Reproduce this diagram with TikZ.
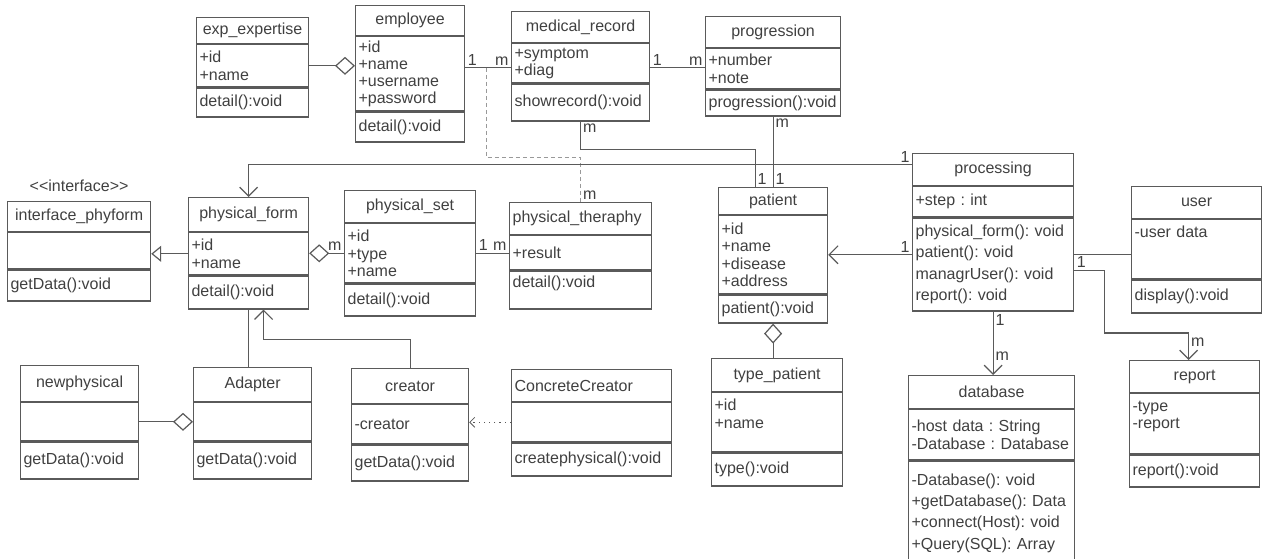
\documentclass[tikz,border=0pt]{standalone}
\usepackage{fontspec}
\setmainfont{Liberation Sans}
\usetikzlibrary{positioning,arrows.meta}
\definecolor{umlline}{HTML}{5A5A5A}
\definecolor{umltext}{HTML}{404040}
\frenchspacing

\begin{document}
\begin{tikzpicture}[x=0.5pt, y=-0.5pt]
\tikzstyle{every node} = [text=umltext, font=\fontsize{8}{8.6}\selectfont]
\tikzstyle{head} = [draw=umlline, line width=0.6pt, rectangle, inner sep=0pt, anchor=north west]
\tikzstyle{part} = [draw=umlline, line width=0.6pt, rectangle, inner xsep=1.5pt, inner ysep=0pt, align=left]
\tikzstyle{loose} = [font=\fontsize{8}{10.7}\selectfont]
\tikzstyle{mult} = [inner sep=1pt]
\tikzstyle{link} = [draw=umlline, line width=0.6pt]
\tikzstyle{assoc} = [link, -{Straight Barb[length=4.5pt, width=9pt]}]
\tikzstyle{agg} = [link, -{Diamond[open, length=10pt, width=9pt]}]
\tikzstyle{real} = [link, -{Triangle[open, length=5pt, width=8pt]}]
\tikzstyle{dep} = [link, draw=gray!80, dash pattern=on 2pt off 1.5pt]
\tikzstyle{use} = [link, dotted, line width=0.4pt, -{Straight Barb[length=2.5pt, width=5pt]}]
\useasboundingbox (0,0) rectangle (1263,558);
\clip (0,0) rectangle (1263,558);

% exp_expertise
\node[head, minimum width=56pt, minimum height=13pt] (xp) at (196,17) {exp\_expertise};
\node[part, text width=53pt, minimum height=21pt, below=0pt of xp] (xp-a) {+id\\+name};
\node[part, text width=53pt, minimum height=14.5pt, below=0pt of xp-a] (xp-m) {detail():void};
% employee
\node[head, minimum width=54.5pt, minimum height=15pt] (emp) at (355,5) {employee};
\node[part, text width=51.5pt, minimum height=37pt, below=0pt of emp] (emp-a) {+id\\+name\\+username\\+password};
\node[part, text width=51.5pt, minimum height=15pt, below=0pt of emp-a] (emp-m) {detail():void};
% medical_record
\node[head, minimum width=69pt, minimum height=15.5pt] (med) at (511,11) {medical\_record};
\node[part, text width=66pt, minimum height=19.5pt, below=0pt of med] (med-a) {+symptom\\+diag};
\node[part, text width=66pt, minimum height=18.5pt, below=0pt of med-a] (med-m) {showrecord():void};
% progression
\node[head, minimum width=67.5pt, minimum height=15.5pt] (prog) at (705,16) {progression};
\node[part, text width=64.5pt, minimum height=20pt, below=0pt of prog] (prog-a) {+number\\+note};
\node[part, text width=64.5pt, minimum height=13pt, below=0pt of prog-a] (prog-m) {progression():void};
% processing
\node[head, minimum width=80.5pt, minimum height=16pt] (proc) at (912,153) {processing};
\node[part, text width=77.5pt, minimum height=15pt, below=0pt of proc] (proc-a) {+step : int};
\node[part, loose, text width=77.5pt, minimum height=46.5pt, below=0pt of proc-a] (proc-m) {physical\_form(): void\\patient(): void\\managrUser(): void\\report(): void};
% user
\node[head, minimum width=65pt, minimum height=16pt] (usr) at (1131,186) {user};
\node[part, text width=62pt, minimum height=29.5pt, below=0pt of usr] (usr-a) {-user data\\\mbox{}\\\mbox{}};
\node[part, text width=62pt, minimum height=16.5pt, below=0pt of usr-a] (usr-m) {display():void};
% report
\node[head, minimum width=65pt, minimum height=16pt] (rep) at (1129,360) {report};
\node[part, text width=62pt, minimum height=30pt, below=0pt of rep] (rep-a) {-type\\-report\\\mbox{}};
\node[part, text width=62pt, minimum height=16pt, below=0pt of rep-a] (rep-m) {report():void};
% database
\node[head, minimum width=83pt, minimum height=16.5pt] (db) at (908,375) {database};
\node[part, text width=80pt, minimum height=25pt, below=0pt of db] (db-a) {-host data : String\\-Database : Database};
\node[part, loose, text width=80pt, minimum height=52pt, below=0pt of db-a] (db-m) {-Database(): void\\+getDatabase(): Data\\+connect(Host): void\\+Query(SQL): Array};
% patient
\node[head, minimum width=54.5pt, minimum height=13.5pt] (pat) at (718,187) {patient};
\node[part, text width=51.5pt, minimum height=39pt, below=0pt of pat] (pat-a) {+id\\+name\\+disease\\+address};
\node[part, text width=51.5pt, minimum height=14pt, below=0pt of pat-a] (pat-m) {patient():void};
% type_patient
\node[head, minimum width=65.5pt, minimum height=16.5pt] (tp) at (711,358) {type\_patient};
\node[part, text width=62.5pt, minimum height=29.5pt, below=0pt of tp] (tp-a) {+id\\+name\\\mbox{}};
\node[part, text width=62.5pt, minimum height=16.5pt, below=0pt of tp-a] (tp-m) {type():void};
% physical_theraphy
\node[head, align=left, text width=68pt, inner xsep=1.5pt, minimum height=16pt] (pth) at (509,202) {physical\_theraphy};
\node[part, text width=68pt, minimum height=17pt, below=0pt of pth] (pth-a) {+result};
\node[part, text width=68pt, minimum height=19pt, below=0pt of pth-a] (pth-m) {detail():void\\\mbox{}};
% physical_set
\node[head, minimum width=65.5pt, minimum height=16pt] (pset) at (344,190) {physical\_set};
\node[part, text width=62.5pt, minimum height=29.5pt, below=0pt of pset] (pset-a) {+id\\+type\\+name};
\node[part, text width=62.5pt, minimum height=16pt, below=0pt of pset-a] (pset-m) {detail():void};
% physical_form
\node[head, minimum width=60pt, minimum height=17pt] (pf) at (188,197) {physical\_form};
\node[part, text width=57pt, minimum height=21pt, below=0pt of pf] (pf-a) {+id\\+name};
\node[part, text width=57pt, minimum height=16.5pt, below=0pt of pf-a] (pf-m) {detail():void};
% interface_phyform
\node[head, minimum width=71.5pt, minimum height=15pt] (ifc) at (7,201) {interface\_phyform};
\node[part, text width=68.5pt, minimum height=18pt, below=0pt of ifc] (ifc-a) {};
\node[part, text width=68.5pt, minimum height=15.5pt, below=0pt of ifc-a] (ifc-m) {getData():void};
\node[above=1pt of ifc] (ifc-st) {<{}<interface>{}>};
% newphysical
\node[head, minimum width=59pt, minimum height=18pt] (np) at (20,365) {newphysical};
\node[part, text width=56pt, minimum height=19pt, below=0pt of np] (np-a) {};
\node[part, text width=56pt, minimum height=18.5pt, below=0pt of np-a] (np-m) {getData():void};
% Adapter
\node[head, minimum width=59pt, minimum height=17pt] (ad) at (193,367) {Adapter};
\node[part, text width=56pt, minimum height=19pt, below=0pt of ad] (ad-a) {};
\node[part, text width=56pt, minimum height=18.5pt, below=0pt of ad-a] (ad-m) {getData():void};
% creator
\node[head, minimum width=58.5pt, minimum height=17.5pt] (cr) at (351,368) {creator};
\node[part, text width=55.5pt, minimum height=19.5pt, below=0pt of cr] (cr-a) {-creator};
\node[part, text width=55.5pt, minimum height=18pt, below=0pt of cr-a] (cr-m) {getData():void};
% ConcreteCreator
\node[head, align=left, text width=77pt, inner xsep=1.5pt, minimum height=16pt] (cc) at (511,369) {ConcreteCreator};
\node[part, text width=77pt, minimum height=19.5pt, below=0pt of cc] (cc-a) {};
\node[part, text width=77pt, minimum height=16.5pt, below=0pt of cc-a] (cc-m) {createphysical():void};

% aggregations and realization
\draw[agg] (xp-a.east) -- (xp-a.east -| emp-a.west);
\draw[agg] (pset-a.west) -- (pset-a.west -| pf-a.east) node[mult, pos=0, anchor=south east] {m};
\draw[agg] (np-a.east) -- (np-a.east -| ad-a.west);
\draw[agg] (pat-m.south |- tp.north) -- (pat-m.south);
\draw[real] (pf-a.west) -- (pf-a.west -| ifc-a.east);

% associations
\draw[link] ([yshift=3pt]emp-a.east) -- coordinate[pos=0.47] (rec) ([yshift=3pt]emp-a.east -| med-a.west)
  node[mult, pos=0, anchor=south west] {1} node[mult, pos=1, anchor=south east] {m};
\draw[link] ([yshift=-2.25pt]med-a.east) -- ([yshift=-2.25pt]med-a.east -| prog-a.west)
  node[mult, pos=0, anchor=south west] {1} node[mult, pos=1, anchor=south east] {m};
\draw[dep] (rec) |- ([yshift=-18pt]med-m.south) -- (pth.north) node[mult, pos=1, anchor=south west] {m};
\draw[link] (med-m.south) -- node[mult, pos=0, anchor=north west] {m} ++(0pt,-14pt) -| ([xshift=-9pt]pat.north)
  node[mult, pos=1, anchor=south west] {1};
\draw[link] (prog-m.south) -- (pat.north) node[mult, pos=0, anchor=north west] {m} node[mult, pos=1, anchor=south west] {1};
\draw[link] (pset-a.east) -- (pset-a.east -| pth-a.west) node[mult, pos=0, anchor=south west] {1} node[mult, pos=1, anchor=south east] {m};
\draw[assoc] ([yshift=2.5pt]proc.west) -| (pf.north) node[mult, pos=0, anchor=south east] {1};
\draw[assoc] (proc-m.west |- pat-a.east) -- (pat-a.east) node[mult, pos=0, anchor=south east] {1};
\draw[link] (proc-m.east |- pat-a.east) -- (usr-a.west |- pat-a.east);
\draw[assoc] ([yshift=-3pt]proc-m.east) -- node[mult, pos=0, anchor=south west] {1} ++(15pt,0pt)
  |- ([xshift=-3pt,yshift=13.5pt]rep.north) -- ([xshift=-3pt]rep.north) node[mult, pos=0.35, anchor=west] {m};
\draw[assoc] (proc-m.south) -- (proc-m.south |- db.north) node[mult, pos=0, anchor=north west] {1} node[mult, pos=0.7, anchor=west] {m};
\draw[link] (pf-m.south |- ad.north) -- (pf-m.south);
\draw[assoc] (cr.north) |- ([xshift=7.5pt,yshift=-15pt]pf-m.south) -- ([xshift=7.5pt]pf-m.south);
\draw[use] (cc-a.west) -- (cc-a.west -| cr-a.east);
\end{tikzpicture}
\end{document}
